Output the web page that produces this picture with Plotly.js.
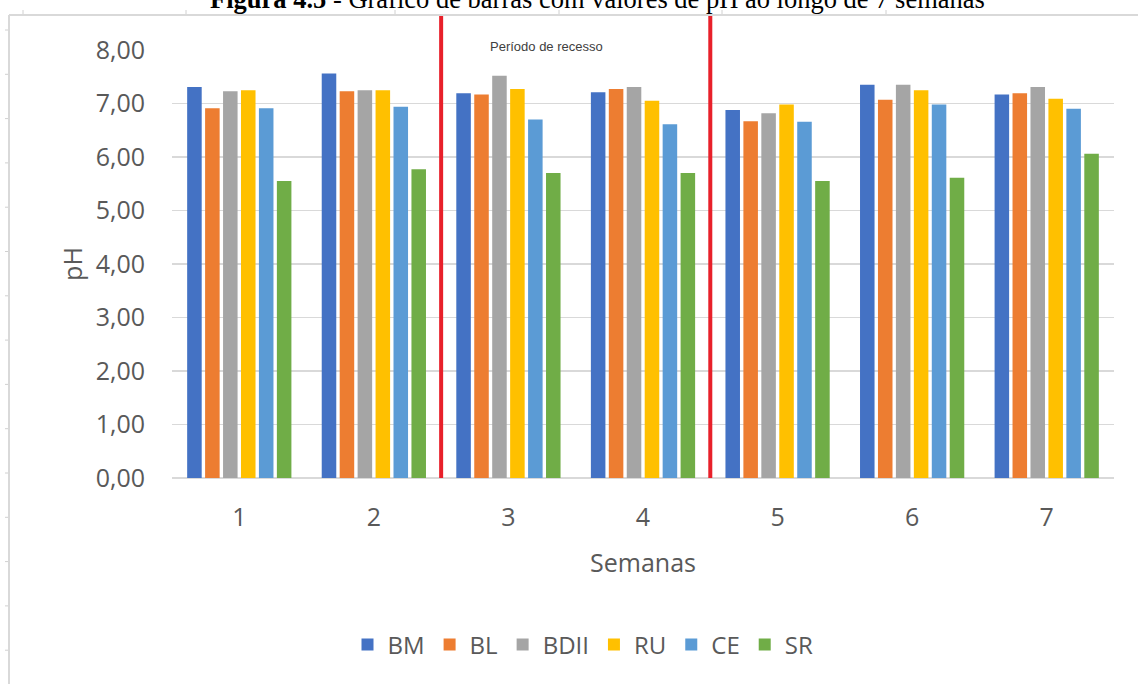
<!DOCTYPE html>
<html>
<head>
<meta charset="utf-8">
<script src="https://cdn.plot.ly/plotly-3.0.1.min.js"></script>
<style>html,body{margin:0;padding:0;background:#fff;}#chart{width:1138px;height:684px;}</style>
</head>
<body>
<div id="chart"></div>
<script>
// ---- data ----
const weeks = ['1', '2', '3', '4', '5', '6', '7'];
const seriesNames = ['BM', 'BL', 'BDII', 'RU', 'CE', 'SR'];
const BM   = [7.31, 7.56, 7.19, 7.21, 6.88, 7.35, 7.17];
const BL   = [6.91, 7.23, 7.17, 7.27, 6.67, 7.07, 7.19];
const BDII = [7.23, 7.25, 7.52, 7.31, 6.82, 7.35, 7.31];
const RU   = [7.25, 7.25, 7.27, 7.05, 6.98, 7.25, 7.09];
const CE   = [6.91, 6.94, 6.70, 6.61, 6.66, 6.98, 6.90];
const SR   = [5.55, 5.77, 5.70, 5.70, 5.55, 5.61, 6.06];
const yTicks = [0, 1, 2, 3, 4, 5, 6, 7, 8];
const recessBounds = [1.5, 3.5]; // between weeks 2|3 and 4|5
const recessLabel = 'Período de recesso';
const figTitleBold = 'Figura 4.5';
const figTitleRest = ' - Gráfico de barras com valores de pH ao longo de 7 semanas';

const colors = ['#4472C4', '#ED7D31', '#A5A5A5', '#FFC000', '#5B9BD5', '#70AD47'];
const values = [BM, BL, BDII, RU, CE, SR];

const traces = seriesNames.map((n, i) => ({
  type: 'bar', name: n, x: weeks, y: values[i],
  marker: {color: colors[i]}, hoverinfo: 'none'
}));

const textColor = '#595959';
const font = 'Open Sans, Lato, sans-serif';

// plot area geometry (pixels) used to convert decoration positions to paper coords
const L = 172, R = 24, T = 50, B = 206, W = 1138, H = 684;
const pw = W - L - R, ph = H - T - B;
const px = x => (x - L) / pw;
const py = y => (H - B - y) / ph;

const shapes = [];
recessBounds.forEach(xv => shapes.push({
  type: 'line', xref: 'x', yref: 'paper', x0: xv, x1: xv, y0: 0, y1: py(16),
  line: {color: '#E8202A', width: 4}, layer: 'above'
}));
// page frame
shapes.push({type: 'line', xref: 'paper', yref: 'paper', x0: px(9), x1: px(1140), y0: py(15), y1: py(15), line: {color: '#D9D9D9', width: 2}});
shapes.push({type: 'line', xref: 'paper', yref: 'paper', x0: px(9), x1: px(9), y0: py(15), y1: py(690), line: {color: '#D9D9D9', width: 2}});
for (let k = 0; k < 15; k++) {
  const y = 30 + 44.3 * k;
  shapes.push({type: 'line', xref: 'paper', yref: 'paper', x0: px(5), x1: px(8), y0: py(y), y1: py(y), line: {color: '#D0D0D0', width: 1}});
}
[23, 186, 395, 559, 722, 886].forEach(x => shapes.push({type: 'line', xref: 'paper', yref: 'paper', x0: px(x), x1: px(x), y0: py(10), y1: py(14), line: {color: '#D0D0D0', width: 1}}));

const annotations = [
  {text: recessLabel, xref: 'paper', yref: 'paper', x: px(546), y: py(37), showarrow: false,
   font: {family: 'Liberation Sans, Arial, sans-serif', size: 13, color: '#404040'}},
  {text: '<b>' + figTitleBold + '</b>' + figTitleRest, xref: 'paper', yref: 'paper', x: px(597), y: py(16),
   yanchor: 'bottom', xanchor: 'center', showarrow: false,
   font: {family: 'Liberation Serif, Times New Roman, serif', size: 26.5, color: '#000'}}
];

const layout = {
  width: W, height: H,
  margin: {l: L, r: R, t: T, b: B, pad: 0},
  paper_bgcolor: '#fff', plot_bgcolor: '#fff',
  separators: ',.',
  barmode: 'group', bargap: 0.2, bargroupgap: 0.19,
  font: {family: font, color: textColor, size: 25},
  showlegend: true,
  legend: {orientation: 'h', x: px(583), xanchor: 'center', y: py(645), yanchor: 'middle',
    font: {family: font, size: 24, color: textColor}, itemclick: false, itemdoubleclick: false},
  xaxis: {type: 'category', range: [-0.5, 6.5], showgrid: false, zeroline: false, showline: false,
    ticks: 'outside', ticklen: 17, tickcolor: 'rgba(0,0,0,0)',
    tickfont: {family: font, size: 25, color: textColor},
    title: {text: 'Semanas', font: {family: font, size: 25, color: textColor}, standoff: 22},
    automargin: false, fixedrange: true},
  yaxis: {range: [0, 8], tickvals: yTicks, tickformat: '.2f', showgrid: true, gridcolor: '#D9D9D9', gridwidth: 1.3,
    zeroline: true, zerolinecolor: '#D9D9D9', zerolinewidth: 1.3, showline: false,
    ticks: 'outside', ticklen: 21, tickcolor: 'rgba(0,0,0,0)',
    tickfont: {family: font, size: 25, color: textColor},
    title: {text: 'pH', font: {family: font, size: 25, color: textColor}, standoff: 5},
    automargin: false, fixedrange: true},
  shapes: shapes,
  annotations: annotations
};

Plotly.newPlot('chart', traces, layout, {staticPlot: true, displayModeBar: false});
</script>
</body>
</html>
